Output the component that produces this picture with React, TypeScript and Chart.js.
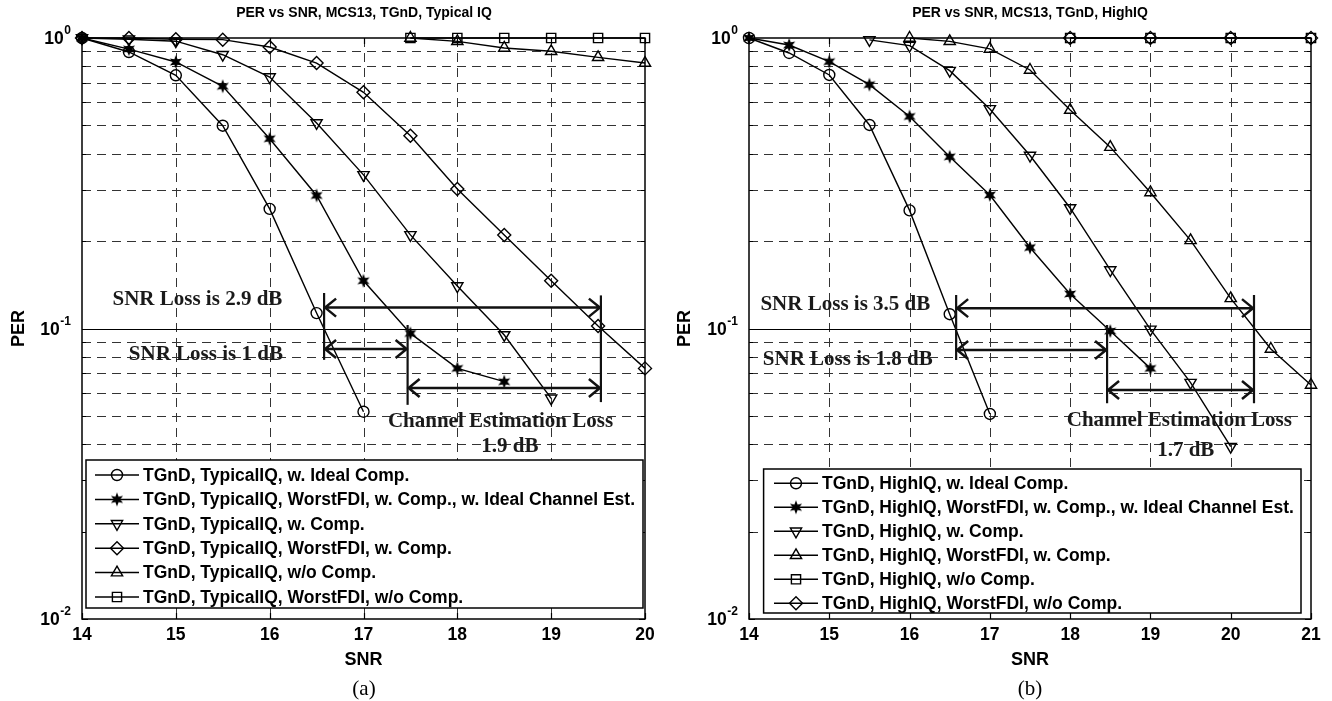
import React, { useEffect, useRef } from 'react';
import { Chart, registerables } from 'chart.js';

Chart.register(...registerables);

const SANS = '"Liberation Sans", Arial, Helvetica, sans-serif';
const SERIF = '"Liberation Serif", "Times New Roman", Times, serif';

// ---------------- Panel (a): Typical IQ ----------------
const titleA = 'PER vs SNR, MCS13, TGnD, Typical IQ';
const snrA = [14, 14.5, 15, 15.5, 16, 16.5, 17, 17.5, 18, 18.5, 19, 19.5, 20];
const perA_idealComp = [1.0, 0.895, 0.744, 0.499, 0.258, 0.113, 0.0517];
const perA_idealChEst = [1.0, 0.916, 0.827, 0.682, 0.45, 0.287, 0.146, 0.0962, 0.0729, 0.0656];
const perA_comp = [1.0, 0.99, 0.975, 0.876, 0.734, 0.51, 0.338, 0.21, 0.14, 0.095, 0.0575];
const perA_fdiComp = [1.0, 1.0, 0.99, 0.987, 0.931, 0.82, 0.65, 0.461, 0.302, 0.21, 0.146, 0.102, 0.0729];
const snrA_noComp = [17.5, 18, 18.5, 19, 19.5, 20];
const perA_noComp = [1.0, 0.974, 0.924, 0.9, 0.858, 0.82];
const perA_fdiNoComp = [1.0, 1.0, 1.0, 1.0, 1.0, 1.0];
const legendA = [
  'TGnD, TypicalIQ, w. Ideal Comp.',
  'TGnD, TypicalIQ, WorstFDI, w. Comp., w. Ideal Channel Est.',
  'TGnD, TypicalIQ, w. Comp.',
  'TGnD, TypicalIQ, WorstFDI, w. Comp.',
  'TGnD, TypicalIQ, w/o Comp.',
  'TGnD, TypicalIQ, WorstFDI, w/o Comp.',
];
// annotations (data coordinates): arrows [snr1, snr2, per], vlines [snr, perTop, perBottom], notes [text, snr, per]
const arrowsA = [[16.58, 19.53, 0.118], [16.58, 17.47, 0.085], [17.47, 19.53, 0.0624]];
const vlinesA = [[16.58, 0.1325, 0.078], [19.53, 0.13, 0.0558], [17.47, 0.1028, 0.0546]];
const notesA: [string, number, number][] = [
  ['SNR Loss is 2.9 dB', 15.23, 0.1254],
  ['SNR Loss is 1 dB', 15.32, 0.0811],
  ['Channel Estimation Loss', 18.46, 0.0478],
  ['1.9 dB', 18.56, 0.0391],
];

// ---------------- Panel (b): High IQ ----------------
const titleB = 'PER vs SNR, MCS13, TGnD, HighIQ';
const snrB = [14, 14.5, 15, 15.5, 16, 16.5, 17, 17.5, 18, 18.5, 19, 19.5, 20, 20.5, 21];
const perB_idealComp = [1.0, 0.888, 0.746, 0.502, 0.255, 0.112, 0.0508];
const perB_idealChEst = [1.0, 0.946, 0.829, 0.691, 0.537, 0.39, 0.288, 0.19, 0.1315, 0.098, 0.0729];
const snrB_comp = [15.5, 16, 16.5, 17, 17.5, 18, 18.5, 19, 19.5, 20];
const perB_comp = [0.985, 0.941, 0.772, 0.57, 0.394, 0.26, 0.159, 0.0993, 0.0651, 0.0392];
const snrB_fdiComp = [16, 16.5, 17, 17.5, 18, 18.5, 19, 19.5, 20, 20.5, 21];
const perB_fdiComp = [1.0, 0.974, 0.917, 0.776, 0.565, 0.421, 0.294, 0.201, 0.127, 0.085, 0.0639];
const snrB_noComp = [18, 19, 20, 21];
const perB_noComp = [1.0, 1.0, 1.0, 1.0];
const perB_fdiNoComp = [1.0, 1.0, 1.0, 1.0];
const legendB = [
  'TGnD, HighIQ, w. Ideal Comp.',
  'TGnD, HighIQ, WorstFDI, w. Comp., w. Ideal Channel Est.',
  'TGnD, HighIQ, w. Comp.',
  'TGnD, HighIQ, WorstFDI, w. Comp.',
  'TGnD, HighIQ, w/o Comp.',
  'TGnD, HighIQ, WorstFDI, w/o Comp.',
];
const arrowsB = [[16.58, 20.29, 0.1175], [16.58, 18.46, 0.0843], [18.46, 20.29, 0.0614]];
const vlinesB = [[16.58, 0.1304, 0.0779], [20.29, 0.1304, 0.0553], [18.46, 0.1028, 0.0553]];
const notesB: [string, number, number][] = [
  ['SNR Loss is 3.5 dB', 15.2, 0.121],
  ['SNR Loss is 1.8 dB', 15.23, 0.078],
  ['Channel Estimation Loss', 19.36, 0.0481],
  ['1.7 dB', 19.44, 0.0379],
];

type Marker = 'circle' | 'star' | 'down' | 'up' | 'diamond' | 'square';
const markersA: Marker[] = ['circle', 'star', 'down', 'diamond', 'up', 'square'];
const markersB: Marker[] = ['circle', 'star', 'down', 'up', 'square', 'diamond'];

interface Series { label: string; xs: number[]; ys: number[]; marker: Marker }
interface LegendBox { x: number; y: number; w: number; h: number; row0: number; dy: number; l1: number; l2: number; tx: number }
interface PanelSpec {
  title: string; xMax: number; yAxisW: number; y2W: number;
  series: Series[]; legend: LegendBox;
  arrows: number[][]; vlines: number[][]; notes: [string, number, number][];
}

const panelA: PanelSpec = {
  title: titleA, xMax: 20, yAxisW: 82, y2W: 83,
  series: [
    { label: legendA[0], xs: snrA.slice(0, perA_idealComp.length), ys: perA_idealComp, marker: markersA[0] },
    { label: legendA[1], xs: snrA.slice(0, perA_idealChEst.length), ys: perA_idealChEst, marker: markersA[1] },
    { label: legendA[2], xs: snrA.slice(0, perA_comp.length), ys: perA_comp, marker: markersA[2] },
    { label: legendA[3], xs: snrA.slice(0, perA_fdiComp.length), ys: perA_fdiComp, marker: markersA[3] },
    { label: legendA[4], xs: snrA_noComp, ys: perA_noComp, marker: markersA[4] },
    { label: legendA[5], xs: snrA_noComp, ys: perA_fdiNoComp, marker: markersA[5] },
  ],
  legend: { x: 86, y: 460, w: 557, h: 148, row0: 475, dy: 24.4, l1: 95, l2: 139, tx: 143 },
  arrows: arrowsA, vlines: vlinesA, notes: notesA,
};

const panelB: PanelSpec = {
  title: titleB, xMax: 21, yAxisW: 83, y2W: 83,
  series: [
    { label: legendB[0], xs: snrB.slice(0, perB_idealComp.length), ys: perB_idealComp, marker: markersB[0] },
    { label: legendB[1], xs: snrB.slice(0, perB_idealChEst.length), ys: perB_idealChEst, marker: markersB[1] },
    { label: legendB[2], xs: snrB_comp, ys: perB_comp, marker: markersB[2] },
    { label: legendB[3], xs: snrB_fdiComp, ys: perB_fdiComp, marker: markersB[3] },
    { label: legendB[4], xs: snrB_noComp, ys: perB_noComp, marker: markersB[4] },
    { label: legendB[5], xs: snrB_noComp, ys: perB_fdiNoComp, marker: markersB[5] },
  ],
  legend: { x: 97.6, y: 469, w: 537.4, h: 144, row0: 483.3, dy: 24, l1: 108, l2: 152, tx: 156 },
  arrows: arrowsB, vlines: vlinesB, notes: notesB,
};

function makeStar(): HTMLCanvasElement {
  const c = document.createElement('canvas');
  c.width = 16; c.height = 16;
  const g = c.getContext('2d')!;
  g.beginPath();
  const n = 6, R = 7, r = 3.2, cx = 8, cy = 8;
  for (let i = 0; i < 2 * n; i++) {
    const a = -Math.PI / 2 + (i * Math.PI) / n;
    const rr = i % 2 === 0 ? R : r;
    const px = cx + rr * Math.cos(a), py = cy + rr * Math.sin(a);
    if (i === 0) g.moveTo(px, py); else g.lineTo(px, py);
  }
  g.closePath();
  g.fillStyle = '#000';
  g.fill();
  return c;
}

function pointOpts(m: Marker, star: HTMLCanvasElement) {
  switch (m) {
    case 'circle': return { pointStyle: 'circle', pointRadius: 5.5, pointRotation: 0 };
    case 'star': return { pointStyle: star, pointRadius: 6.5, pointRotation: 0 };
    case 'down': return { pointStyle: 'triangle', pointRadius: 6.5, pointRotation: 180 };
    case 'up': return { pointStyle: 'triangle', pointRadius: 6.5, pointRotation: 0 };
    case 'diamond': return { pointStyle: 'rectRot', pointRadius: 6.5, pointRotation: 0 };
    default: return { pointStyle: 'rect', pointRadius: 6.5, pointRotation: 0 };
  }
}

function drawMarker(ctx: CanvasRenderingContext2D, m: Marker, x: number, y: number, star: HTMLCanvasElement) {
  if (m === 'star') { ctx.drawImage(star, x - star.width / 2, y - star.height / 2); return; }
  const r = 6.5;
  ctx.beginPath();
  if (m === 'circle') ctx.arc(x, y, 5.5, 0, Math.PI * 2);
  else if (m === 'up' || m === 'down') {
    const off = m === 'down' ? Math.PI : 0;
    for (let k = 0; k < 3; k++) {
      const a = off + (k * 2 * Math.PI) / 3;
      const px = x + Math.sin(a) * r, py = y - Math.cos(a) * r;
      if (k === 0) ctx.moveTo(px, py); else ctx.lineTo(px, py);
    }
    ctx.closePath();
  } else if (m === 'diamond') {
    ctx.moveTo(x - r, y); ctx.lineTo(x, y - r); ctx.lineTo(x + r, y); ctx.lineTo(x, y + r); ctx.closePath();
  } else {
    const s = Math.SQRT1_2 * r;
    ctx.rect(x - s, y - s, 2 * s, 2 * s);
  }
  ctx.stroke();
}

function gridValues(): { v: number; major: boolean }[] {
  const out: { v: number; major: boolean }[] = [];
  for (const e of [-2, -1]) {
    const base = Math.pow(10, e);
    for (let m = 1; m <= 9; m++) out.push({ v: +(m * base).toPrecision(3), major: m === 1 });
  }
  out.push({ v: 1, major: true });
  return out;
}

function decorPlugin(spec: PanelSpec, star: HTMLCanvasElement) {
  return {
    id: 'decor',
    beforeDatasetsDraw(chart: any) {
      const { ctx, chartArea: ca, scales } = chart;
      const xs = scales.x, ys = scales.y;
      ctx.save();
      ctx.fillStyle = '#fff';
      ctx.fillRect(ca.left, ca.top, ca.right - ca.left, ca.bottom - ca.top);
      ctx.lineWidth = 1;
      ctx.strokeStyle = '#333';
      ctx.setLineDash([9, 6]);
      for (const g of gridValues()) {
        if (g.major) continue;
        const y = Math.round(ys.getPixelForValue(g.v)) + 0.5;
        ctx.beginPath(); ctx.moveTo(ca.left, y); ctx.lineTo(ca.right, y); ctx.stroke();
      }
      for (let v = Math.ceil(xs.min) + 1; v < xs.max; v++) {
        const x = Math.round(xs.getPixelForValue(v)) + 0.5;
        ctx.beginPath(); ctx.moveTo(x, ca.top); ctx.lineTo(x, ca.bottom); ctx.stroke();
      }
      ctx.setLineDash([]);
      const y1 = Math.round(ys.getPixelForValue(0.1)) + 0.5;
      ctx.strokeStyle = '#000';
      ctx.beginPath(); ctx.moveTo(ca.left, y1); ctx.lineTo(ca.right, y1); ctx.stroke();
      ctx.restore();
    },
    afterDatasetsDraw(chart: any) {
      const { ctx, chartArea: ca, scales } = chart;
      const xs = scales.x, ys = scales.y;
      ctx.save();
      // annotations
      ctx.strokeStyle = '#111';
      ctx.lineWidth = 2.2;
      for (const [sx, p1, p2] of spec.vlines) {
        const x = xs.getPixelForValue(sx);
        ctx.beginPath(); ctx.moveTo(x, ys.getPixelForValue(p1)); ctx.lineTo(x, ys.getPixelForValue(p2)); ctx.stroke();
      }
      ctx.lineWidth = 2.5;
      ctx.lineJoin = 'miter';
      for (const [s1, s2, p] of spec.arrows) {
        const x1 = xs.getPixelForValue(s1), x2 = xs.getPixelForValue(s2), y = ys.getPixelForValue(p);
        ctx.beginPath();
        ctx.moveTo(x1, y); ctx.lineTo(x2, y);
        ctx.moveTo(x1 + 12, y - 9); ctx.lineTo(x1 + 1, y); ctx.lineTo(x1 + 12, y + 9);
        ctx.moveTo(x2 - 12, y - 9); ctx.lineTo(x2 - 1, y); ctx.lineTo(x2 - 12, y + 9);
        ctx.stroke();
      }
      ctx.fillStyle = '#1a1a1a';
      ctx.font = `bold 21px ${SERIF}`;
      ctx.textAlign = 'center';
      ctx.textBaseline = 'middle';
      for (const [t, sx, p] of spec.notes) {
        ctx.fillText(t, xs.getPixelForValue(sx), ys.getPixelForValue(p));
      }
      // frame
      ctx.strokeStyle = '#000';
      ctx.lineWidth = 1.5;
      ctx.strokeRect(ca.left, ca.top, ca.right - ca.left, ca.bottom - ca.top);
      // inward ticks
      ctx.lineWidth = 1.2;
      ctx.beginPath();
      for (let v = Math.ceil(xs.min); v <= xs.max; v++) {
        const x = Math.round(xs.getPixelForValue(v)) + 0.5;
        ctx.moveTo(x, ca.bottom); ctx.lineTo(x, ca.bottom - 6);
        ctx.moveTo(x, ca.top); ctx.lineTo(x, ca.top + 6);
      }
      for (const g of gridValues()) {
        const y = Math.round(ys.getPixelForValue(g.v)) + 0.5;
        const L = g.major ? 6 : 4;
        ctx.moveTo(ca.left, y); ctx.lineTo(ca.left + L, y);
        ctx.moveTo(ca.right, y); ctx.lineTo(ca.right - L, y);
      }
      ctx.stroke();
      // y tick labels 10^e
      ctx.fillStyle = '#000';
      ctx.textAlign = 'right';
      ctx.textBaseline = 'alphabetic';
      for (const e of [0, -1, -2]) {
        const y = ys.getPixelForValue(Math.pow(10, e));
        const right = ca.left - 11;
        const sup = String(e);
        ctx.font = `bold 12px ${SANS}`;
        const sw = ctx.measureText(sup).width;
        ctx.fillText(sup, right, y - 4);
        ctx.font = `bold 17.5px ${SANS}`;
        ctx.fillText('10', right - sw - 0.5, y + 6);
      }
      ctx.restore();
    },
    afterDraw(chart: any) {
      const { ctx } = chart;
      const L = spec.legend;
      ctx.save();
      ctx.fillStyle = '#fff';
      ctx.fillRect(L.x, L.y, L.w, L.h);
      ctx.strokeStyle = '#000';
      ctx.lineWidth = 1.5;
      ctx.strokeRect(L.x, L.y, L.w, L.h);
      ctx.font = `bold 17.5px ${SANS}`;
      ctx.textAlign = 'left';
      ctx.textBaseline = 'middle';
      spec.series.forEach((s, i) => {
        const y = L.row0 + i * L.dy;
        ctx.strokeStyle = '#000';
        ctx.lineWidth = 1.5;
        ctx.beginPath(); ctx.moveTo(L.l1, y); ctx.lineTo(L.l2, y); ctx.stroke();
        ctx.lineWidth = 1.4;
        drawMarker(ctx, s.marker, (L.l1 + L.l2) / 2, y, star);
        ctx.fillStyle = '#000';
        ctx.fillText(s.label, L.tx, y + 1);
      });
      ctx.restore();
    },
  };
}

function Panel({ spec, left }: { spec: PanelSpec; left: number }) {
  const ref = useRef<HTMLCanvasElement>(null);
  useEffect(() => {
    const star = makeStar();
    const datasets = spec.series.map((s) => ({
      label: s.label,
      data: s.xs.map((x, i) => ({ x, y: s.ys[i] })),
      borderColor: '#000',
      backgroundColor: 'rgba(0,0,0,0)',
      borderWidth: 1.4,
      pointBorderColor: '#000',
      pointBackgroundColor: 'rgba(0,0,0,0)',
      pointBorderWidth: 1.4,
      pointHoverRadius: 0,
      tension: 0,
      clip: false as any,
      ...pointOpts(s.marker, star),
    }));
    const chart = new Chart(ref.current!, {
      type: 'line',
      data: { datasets: datasets as any },
      options: {
        animation: false,
        responsive: false,
        events: [],
        layout: { padding: 0 },
        plugins: {
          legend: { display: false },
          tooltip: { enabled: false },
          title: {
            display: true,
            text: spec.title,
            color: '#000',
            font: { family: SANS, size: 14, weight: 'bold' },
            padding: { top: 5, bottom: 16.2 },
          },
        },
        scales: {
          x: {
            type: 'linear',
            min: 14,
            max: spec.xMax,
            grid: { display: false, drawTicks: false },
            border: { display: false },
            ticks: {
              stepSize: 1,
              autoSkip: false,
              maxRotation: 0,
              padding: 6,
              color: '#000',
              font: { family: SANS, size: 17.5, weight: 'bold' },
            },
            title: {
              display: true,
              text: 'SNR',
              color: '#000',
              font: { family: SANS, size: 18, weight: 'bold' },
              padding: { top: 0, bottom: 30 },
            },
            afterFit: (s: any) => { s.height = 82; },
          },
          y: {
            type: 'logarithmic',
            position: 'left',
            min: 0.01,
            max: 1,
            grid: { display: false, drawTicks: false },
            border: { display: false },
            ticks: { display: false },
            title: {
              display: true,
              text: 'PER',
              color: '#000',
              font: { family: SANS, size: 18, weight: 'bold' },
              padding: { top: 8, bottom: 0 },
            },
            afterFit: (s: any) => { s.width = spec.yAxisW; },
          },
          y2: {
            type: 'linear',
            position: 'right',
            display: true,
            min: 0,
            max: 1,
            grid: { display: false, drawTicks: false },
            border: { display: false },
            ticks: { display: false },
            afterFit: (s: any) => { s.width = spec.y2W; },
          },
        },
      } as any,
      plugins: [decorPlugin(spec, star) as any],
    });
    return () => chart.destroy();
  }, [spec]);
  return (
    <div style={{ position: 'absolute', left, top: 0, width: 728, height: 701 }}>
      <canvas ref={ref} width={728} height={701} style={{ width: 728, height: 701, display: 'block' }} />
    </div>
  );
}

const captionStyle = (cx: number): React.CSSProperties => ({
  position: 'absolute',
  left: cx - 40,
  width: 80,
  top: 675,
  textAlign: 'center',
  fontFamily: SERIF,
  fontSize: 21,
  lineHeight: '26px',
  color: '#000',
});

export default function App() {
  return (
    <div style={{ position: 'absolute', left: 0, top: 0, width: 1332, height: 701, overflow: 'hidden', background: '#fff' }}>
      <Panel spec={panelA} left={0} />
      <Panel spec={panelB} left={666} />
      <div style={captionStyle(364)}>(a)</div>
      <div style={captionStyle(1030)}>(b)</div>
    </div>
  );
}
